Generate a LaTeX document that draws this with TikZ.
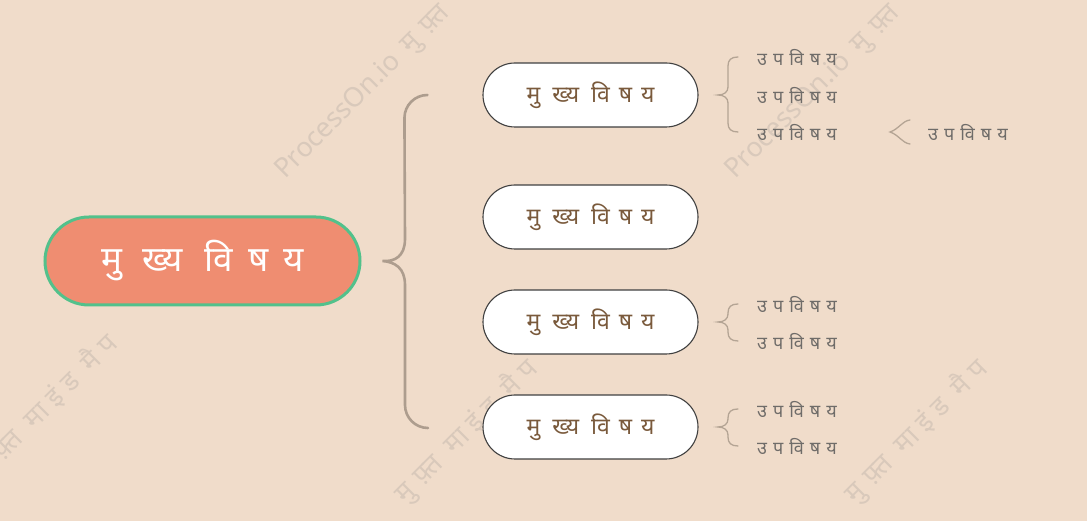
\documentclass[tikz,border=0pt]{standalone}
\usepackage{fontspec}
\newfontfamily\deva[Script=Devanagari]{Noto Sans}
\definecolor{bg}{HTML}{F0DCCA}
\definecolor{mainfill}{HTML}{EF8D71}
\definecolor{mainborder}{HTML}{52C18B}
\definecolor{subtext}{HTML}{7A5A3C}
\definecolor{itemtext}{HTML}{6F6C69}
\definecolor{bigbrace}{HTML}{AD9D8E}
\definecolor{smallbrace}{HTML}{B4A494}
\definecolor{wmark}{HTML}{D9C9BB}
% texts with cluster spacing (clusters kept whole)
\newcommand\maintxt{मु\kern20pt ख्य\kern22pt वि\kern15pt ष\kern15pt य}
\newcommand\subtxt{मु\kern12pt ख्य\kern12pt वि\kern9pt ष\kern9pt य}
\newcommand\itemtxt{उ\kern6pt प\kern6pt वि\kern6pt ष\kern6pt य}
\newcommand\wmA{ProcessOn.io\kern12pt मु\kern10pt फ़्त}
\newcommand\wmB{मु\kern10pt फ़्त\kern14pt मा\kern8pt इं\kern8pt ड\kern14pt मै\kern8pt प}
\begin{document}
\begin{tikzpicture}[x=1pt,y=1pt,
  maintopic/.style={draw=mainborder,line width=3pt,fill=mainfill,rounded corners=44pt,
    minimum width=315pt,minimum height=88pt,text=white,font=\deva\fontsize{35}{40}\selectfont\bfseries},
  subtopic/.style={draw=black!75,line width=1.1pt,fill=white,rounded corners=32pt,
    minimum width=215pt,minimum height=64pt,text=subtext,font=\deva\fontsize{23}{27}\selectfont},
  item/.style={anchor=west,inner sep=0pt,text=itemtext,font=\deva\fontsize{18}{22}\selectfont},
  bigbr/.style={draw=bigbrace,line width=2.6pt,line cap=round},
  smallbr/.style={draw=smallbrace,line width=1.3pt,line cap=round},
  wm/.style={anchor=base west,rotate=45,text=wmark,inner sep=0pt,font=\deva\fontsize{27}{32}\selectfont}]
\fill[bg] (0,0) rectangle (1087,521);
\useasboundingbox (0,0) rectangle (1087,521);
% watermarks
\node[wm] (w1) at (285,341) {\wmA};
\node[wm] (w2) at (735,341) {\wmA};
\node[wm] (w3) at (-15,41) {\wmB};
\node[wm] (w4) at (405,16) {\wmB};
\node[wm] (w5) at (855,16) {\wmB};
% nodes
\node[maintopic] (main) at (202.5,260) {\maintxt};
\node[subtopic] (s1) at (590.5,426) {\subtxt};
\node[subtopic] (s2) at (590.5,304) {\subtxt};
\node[subtopic] (s3) at (590.5,199) {\subtxt};
\node[subtopic] (s4) at (590.5,94) {\subtxt};
% big brace
\coordinate (tip) at ([xshift=21pt]main.east);
\draw[bigbr] ([xshift=-55pt]s1.west) arc[start angle=90,end angle=180,radius=23pt]
  -- (405,282) .. controls (405,265) and (395,259) .. (tip)
  .. controls (395,259) and (405,253) .. (405,236)
  -- (405,116) arc[start angle=180,end angle=270,radius=23pt];
% items
\node[item] (a1) at (757,464) {\itemtxt};
\node[item] (a2) at (757,426) {\itemtxt};
\node[item] (a3) at (757,389) {\itemtxt};
\node[item] (a4) at (928,389) {\itemtxt};
\node[item] (c1) at (757,217) {\itemtxt};
\node[item] (c2) at (757,180) {\itemtxt};
\node[item] (d1) at (757,112) {\itemtxt};
\node[item] (d2) at (757,75) {\itemtxt};
% small braces
\foreach \t/\b/\m in {464/389/426, 217/180/199, 112/75/94}{
  \draw[smallbr] (738,\t) .. controls (731,\t) and (728,\t-3) .. (728,\t-9)
    -- (728,\m+8) .. controls (728,\m+3) and (724,\m) .. (718,\m)
    .. controls (724,\m) and (728,\m-3) .. (728,\m-8)
    -- (728,\b+9) .. controls (728,\b+3) and (731,\b) .. (738,\b);
}
\draw[smallbr] (910,401) .. controls (902,400) and (899,392) .. (890,389)
  .. controls (899,386) and (902,378) .. (910,377);
\end{tikzpicture}
\end{document}
